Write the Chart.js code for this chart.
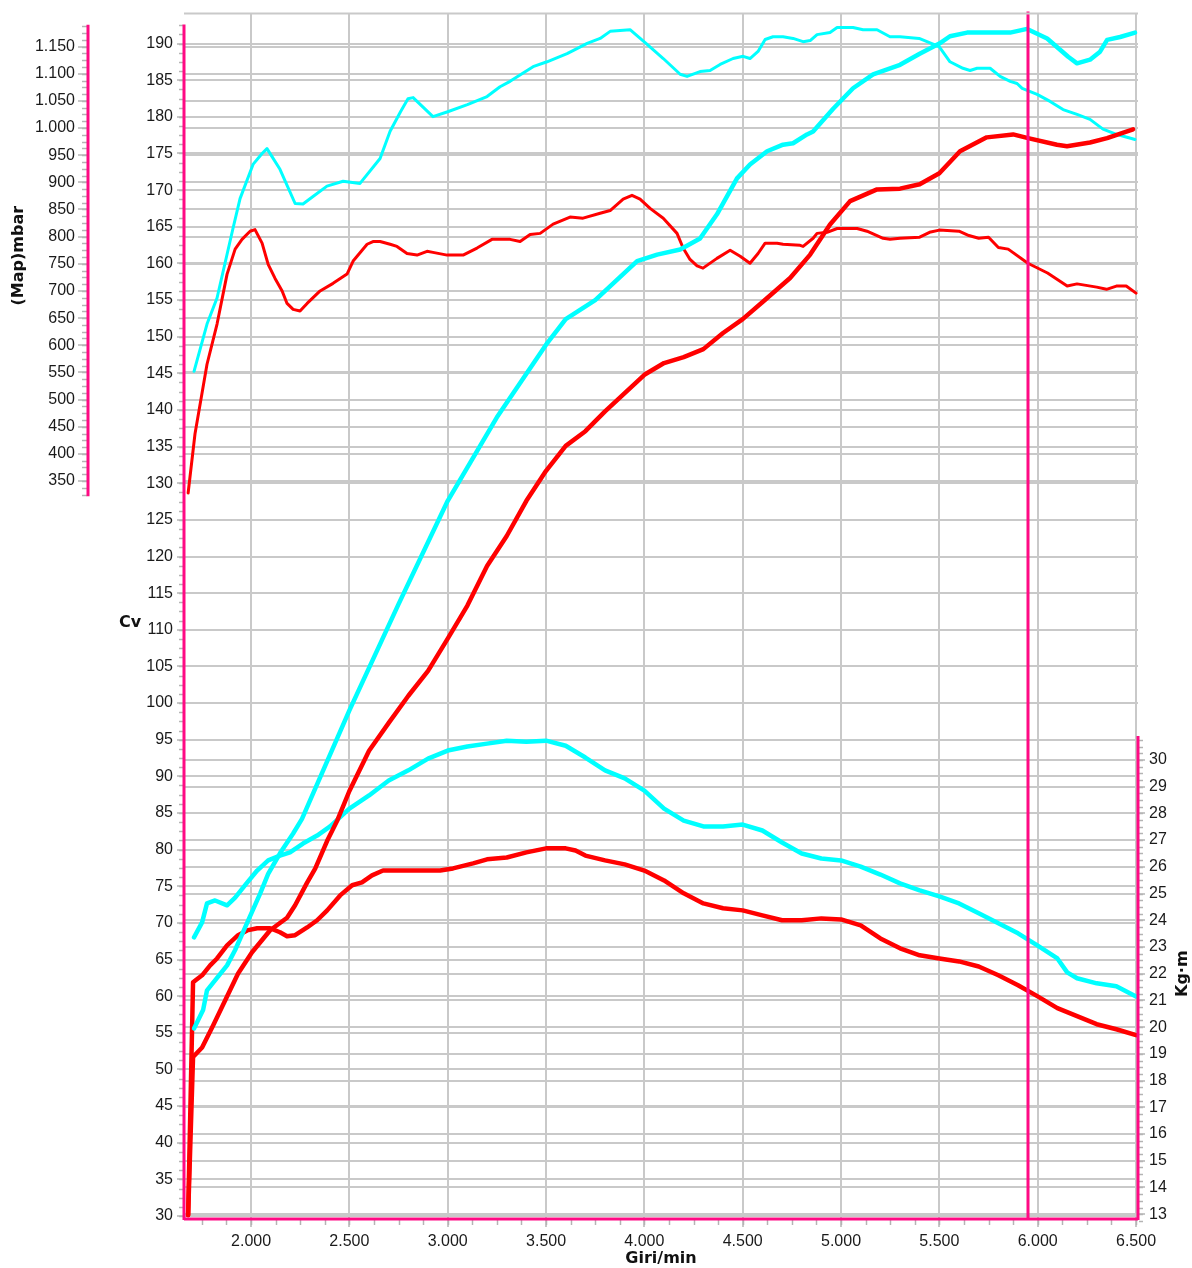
<!DOCTYPE html>
<html>
<head>
<meta charset="utf-8">
<script src="https://cdn.jsdelivr.net/npm/chart.js@4.4.1/dist/chart.umd.min.js"></script>
<style>
  html, body { margin: 0; padding: 0; background: #fff; }
  #wrap { width: 1192px; height: 1268px; }
</style>
</head>
<body>
<div id="wrap"><canvas id="dynoChart" width="1192" height="1268"></canvas></div>
<script>
// tick values
const rpmTicks = [2000, 2500, 3000, 3500, 4000, 4500, 5000, 5500, 6000, 6500];
const cvTicks = [30, 35, 40, 45, 50, 55, 60, 65, 70, 75, 80, 85, 90, 95, 100, 105, 110, 115, 120, 125, 130, 135, 140, 145, 150, 155, 160, 165, 170, 175, 180, 185, 190];
const mbarTicks = [350, 400, 450, 500, 550, 600, 650, 700, 750, 800, 850, 900, 950, 1000, 1050, 1100, 1150];
const kgmTicks = [13, 14, 15, 16, 17, 18, 19, 20, 21, 22, 23, 24, 25, 26, 27, 28, 29, 30];
const cursorRpm = 5950;

// run A (cyan) - power Cv
const rpmPowerA = [1710, 1756, 1776, 1878, 1919, 1985, 2046, 2087, 2147, 2214, 2259, 2500, 2750, 3000, 3250, 3500, 3600, 3750, 3963, 4065, 4182, 4283, 4369, 4471, 4537, 4624, 4705, 4756, 4827, 4858, 4960, 5061, 5163, 5300, 5400, 5500, 5554, 5641, 5860, 5946, 6048, 6155, 6200, 6266, 6317, 6353, 6419, 6495];
const powerA = [55.6, 58.1, 60.8, 64.2, 66.3, 70.3, 74.0, 76.7, 79.5, 82.2, 84.2, 99.0, 113.5, 127.6, 139.0, 148.9, 152.4, 155.0, 160.3, 161.2, 161.9, 163.4, 166.7, 171.6, 173.5, 175.3, 176.2, 176.4, 177.6, 178.0, 181.1, 183.9, 185.8, 187.1, 188.6, 190.0, 191.0, 191.5, 191.5, 192.0, 190.7, 188.2, 187.3, 187.8, 188.9, 190.5, 190.9, 191.5];

// run B (red) - power Cv
const rpmPowerB = [1680, 1705, 1751, 1807, 1868, 1934, 2005, 2097, 2183, 2224, 2285, 2326, 2387, 2437, 2500, 2600, 2700, 2800, 2900, 3000, 3100, 3200, 3300, 3400, 3500, 3600, 3700, 3800, 3900, 4000, 4100, 4200, 4300, 4400, 4500, 4604, 4741, 4843, 4944, 5046, 5183, 5300, 5400, 5500, 5605, 5741, 5875, 5951, 6098, 6149, 6266, 6353, 6485];
const powerB = [30.1, 51.7, 53.0, 56.0, 59.4, 63.1, 66.0, 69.0, 70.7, 72.4, 75.5, 77.4, 81.2, 83.9, 88.0, 93.5, 97.3, 101.0, 104.4, 108.8, 113.3, 118.7, 122.8, 127.6, 131.7, 135.1, 137.1, 139.8, 142.3, 144.8, 146.4, 147.2, 148.3, 150.5, 152.4, 154.8, 158.0, 161.2, 165.3, 168.5, 170.1, 170.2, 170.8, 172.3, 175.3, 177.2, 177.6, 177.1, 176.2, 176.0, 176.5, 177.1, 178.3];

// run A (cyan) - manifold pressure mbar
const rpmMapA = [1710, 1776, 1827, 1908, 1944, 2010, 2056, 2081, 2147, 2224, 2264, 2315, 2386, 2468, 2554, 2656, 2707, 2760, 2798, 2824, 2925, 3000, 3100, 3200, 3266, 3317, 3434, 3505, 3607, 3709, 3775, 3826, 3927, 4014, 4096, 4182, 4217, 4283, 4334, 4385, 4451, 4502, 4537, 4578, 4614, 4654, 4705, 4756, 4807, 4843, 4878, 4944, 4980, 5061, 5112, 5183, 5249, 5300, 5397, 5499, 5554, 5620, 5656, 5692, 5758, 5809, 5860, 5895, 5921, 5997, 6063, 6129, 6200, 6266, 6332, 6404, 6495];
const mapA = [552, 639, 687, 815, 870, 933, 953, 962, 924, 861, 860, 874, 893, 902, 898, 944, 994, 1030, 1054, 1056, 1021, 1030, 1043, 1058, 1076, 1086, 1113, 1122, 1137, 1156, 1165, 1178, 1181, 1154, 1128, 1099, 1095, 1104, 1106, 1117, 1128, 1132, 1128, 1141, 1163, 1168, 1168, 1165, 1159, 1161, 1172, 1176, 1185, 1185, 1181, 1181, 1168, 1168, 1165, 1150, 1122, 1110, 1106, 1110, 1110, 1095, 1086, 1082, 1073, 1062, 1049, 1034, 1025, 1016, 998, 988, 979];

// run B (red) - manifold pressure mbar
const rpmMapB = [1680, 1715, 1776, 1827, 1878, 1919, 1954, 1995, 2020, 2056, 2087, 2122, 2158, 2183, 2214, 2249, 2285, 2351, 2417, 2488, 2519, 2590, 2620, 2656, 2707, 2742, 2793, 2844, 2895, 2925, 2997, 3078, 3149, 3225, 3317, 3368, 3419, 3470, 3536, 3622, 3688, 3775, 3826, 3892, 3937, 3978, 4029, 4096, 4166, 4197, 4232, 4268, 4298, 4369, 4436, 4487, 4537, 4578, 4614, 4675, 4705, 4792, 4807, 4858, 4878, 4929, 4980, 5082, 5132, 5214, 5249, 5300, 5400, 5450, 5500, 5600, 5650, 5700, 5750, 5800, 5850, 5950, 6050, 6150, 6200, 6300, 6350, 6400, 6450, 6500];
const mapB = [328, 437, 565, 639, 731, 777, 795, 810, 813, 788, 749, 723, 700, 677, 666, 663, 677, 700, 714, 731, 755, 786, 791, 791, 786, 782, 769, 766, 773, 771, 766, 766, 779, 795, 795, 791, 804, 806, 823, 836, 834, 843, 848, 869, 876, 869, 852, 834, 806, 779, 758, 746, 742, 760, 775, 764, 751, 769, 788, 788, 786, 784, 782, 797, 806, 808, 815, 815, 810, 797, 795, 797, 799, 808, 812, 810, 802, 797, 799, 780, 777, 751, 733, 709, 713, 707, 703, 709, 709, 696];

// run A (cyan) - torque Kg·m
const rpmTorqueA = [1710, 1751, 1776, 1817, 1878, 1919, 1980, 2031, 2087, 2147, 2198, 2264, 2336, 2402, 2500, 2600, 2700, 2800, 2900, 3000, 3100, 3200, 3300, 3400, 3500, 3600, 3700, 3800, 3900, 4000, 4100, 4200, 4300, 4400, 4500, 4600, 4700, 4800, 4900, 5000, 5100, 5200, 5300, 5400, 5500, 5600, 5700, 5800, 5900, 6000, 6100, 6150, 6200, 6300, 6400, 6500];
const torqueA = [23.36, 23.92, 24.63, 24.74, 24.56, 24.85, 25.41, 25.86, 26.24, 26.42, 26.54, 26.87, 27.17, 27.51, 28.18, 28.67, 29.23, 29.61, 30.05, 30.35, 30.50, 30.61, 30.72, 30.68, 30.72, 30.53, 30.09, 29.61, 29.31, 28.85, 28.18, 27.73, 27.51, 27.51, 27.58, 27.36, 26.91, 26.50, 26.31, 26.24, 26.01, 25.71, 25.38, 25.12, 24.89, 24.63, 24.26, 23.89, 23.51, 23.05, 22.57, 22.05, 21.83, 21.64, 21.53, 21.15];

// run B (red) - torque Kg·m
const rpmTorqueB = [1680, 1705, 1751, 1792, 1827, 1878, 1934, 1980, 2031, 2097, 2147, 2183, 2224, 2285, 2336, 2387, 2453, 2514, 2564, 2615, 2671, 2961, 3027, 3129, 3200, 3300, 3400, 3500, 3600, 3650, 3700, 3800, 3900, 4000, 4100, 4200, 4300, 4400, 4500, 4600, 4700, 4800, 4900, 5000, 5100, 5200, 5300, 5400, 5500, 5600, 5700, 5800, 5900, 6000, 6100, 6200, 6300, 6400, 6500];
const torqueB = [12.97, 21.68, 21.94, 22.31, 22.57, 23.06, 23.44, 23.62, 23.70, 23.70, 23.55, 23.40, 23.44, 23.73, 24.00, 24.37, 24.93, 25.31, 25.42, 25.68, 25.86, 25.86, 25.94, 26.13, 26.28, 26.35, 26.54, 26.69, 26.69, 26.61, 26.42, 26.24, 26.09, 25.86, 25.49, 25.01, 24.63, 24.45, 24.37, 24.18, 24.00, 24.00, 24.07, 24.03, 23.81, 23.32, 22.95, 22.69, 22.57, 22.46, 22.27, 21.94, 21.57, 21.15, 20.71, 20.41, 20.11, 19.92, 19.70];

const PINK = '#ff0a84';
const GRID = '#c9c9c9';
const TICK = '#b4b4b4';
const CYAN = '#00ffff';
const RED = '#ff0000';
const FONT = '"Liberation Sans", Arial, Helvetica, sans-serif';
const TITLE_FONT = 'bold 16px "DejaVu Sans", Verdana, sans-serif';

function fmt(v) {
    return String(v).replace(/\B(?=(\d{3})+(?!\d))/g, '.');
}

function toPoints(xs, ys) {
    return xs.map((x, i) => ({ x: x, y: ys[i] }));
}

function setTicks(values) {
    return (scale) => { scale.ticks = values.map(v => ({ value: v })); };
}

function minorY(ctx, scale, from, to, step, x0, dir, len) {
    for (let v = from; v <= to + 1e-6; v += step) {
        const y = Math.round(scale.getPixelForValue(v)) + 0.5;
        ctx.beginPath();
        ctx.moveTo(x0, y);
        ctx.lineTo(x0 + dir * len, y);
        ctx.stroke();
    }
}

const decor = {
    id: 'decor',
    afterDatasetsDraw(chart) {
        const { ctx, chartArea: a, scales } = chart;
        const cx = Math.round(scales.x.getPixelForValue(cursorRpm));
        ctx.save();
        ctx.strokeStyle = PINK;
        ctx.lineWidth = 3;
        ctx.beginPath();
        ctx.moveTo(cx, a.top - 2);
        ctx.lineTo(cx, a.bottom);
        ctx.stroke();
        ctx.restore();
    },
    afterDraw(chart) {
        const { ctx, chartArea: a, scales } = chart;
        const cv = scales.cv, mbar = scales.mbar, kgm = scales.kgm, x = scales.x;
        ctx.save();

        // top border
        ctx.strokeStyle = GRID;
        ctx.lineWidth = 2;
        ctx.beginPath();
        ctx.moveTo(a.left, a.top);
        ctx.lineTo(a.right, a.top);
        ctx.stroke();

        // minor ticks
        ctx.strokeStyle = TICK;
        ctx.lineWidth = 1.5;
        minorY(ctx, cv, 30, 192.5, 1.25, a.left - 1, -1, 4);
        minorY(ctx, mbar, 325, 1187.5, 12.5, mbar.right - 1, -1, 5);
        minorY(ctx, kgm, 12.75, 30.75, 0.25, a.right + 1, 1, 4);
        for (let v = 1750; v <= 6500; v += 125) {
            const px = Math.round(x.getPixelForValue(v)) + 0.5;
            ctx.beginPath();
            ctx.moveTo(px, a.bottom + 1);
            ctx.lineTo(px, a.bottom + 6);
            ctx.stroke();
        }

        // axis lines
        ctx.strokeStyle = PINK;
        ctx.lineWidth = 3;
        ctx.beginPath();
        ctx.moveTo(a.left, cv.getPixelForValue(192.6));
        ctx.lineTo(a.left, a.bottom + 1);
        ctx.moveTo(mbar.right, mbar.getPixelForValue(1190));
        ctx.lineTo(mbar.right, mbar.getPixelForValue(322));
        ctx.moveTo(a.right, kgm.getPixelForValue(30.9));
        ctx.lineTo(a.right, a.bottom + 1);
        ctx.moveTo(a.left, a.bottom);
        ctx.lineTo(a.right, a.bottom);
        ctx.stroke();

        // titles
        ctx.fillStyle = '#111';
        ctx.font = TITLE_FONT;
        ctx.textAlign = 'center';
        ctx.textBaseline = 'middle';
        ctx.fillText('Cv', cv.left + 42, cv.getPixelForValue(111));
        ctx.fillText('Giri/min', (a.left + a.right) / 2, 1259);

        ctx.save();
        ctx.translate(19, mbar.getPixelForValue(765));
        ctx.rotate(-Math.PI / 2);
        ctx.fillText('(Map)mbar', 0, 0);
        ctx.restore();

        ctx.save();
        ctx.translate(1183, kgm.getPixelForValue(22));
        ctx.rotate(-Math.PI / 2);
        ctx.fillText('Kg·m', 0, 0);
        ctx.restore();

        ctx.restore();
    }
};

function yGrid(tickLength) {
    return { color: GRID, lineWidth: 2, tickLength: tickLength, tickColor: TICK, tickWidth: 1.5 };
}

Chart.defaults.font.family = FONT;
Chart.defaults.font.size = 16;
Chart.defaults.color = '#1a1a1a';

const ctx = document.getElementById('dynoChart').getContext('2d');

window.myChart = new Chart(ctx, {
    type: 'line',
    data: {
        datasets: [
            { label: 'Cv A', data: toPoints(rpmPowerA, powerA), yAxisID: 'cv', borderColor: CYAN, borderWidth: 4.5 },
            { label: 'Cv B', data: toPoints(rpmPowerB, powerB), yAxisID: 'cv', borderColor: RED, borderWidth: 4.5 },
            { label: 'Kgm A', data: toPoints(rpmTorqueA, torqueA), yAxisID: 'kgm', borderColor: CYAN, borderWidth: 4.5 },
            { label: 'Kgm B', data: toPoints(rpmTorqueB, torqueB), yAxisID: 'kgm', borderColor: RED, borderWidth: 4.5 },
            { label: 'mbar A', data: toPoints(rpmMapA, mapA), yAxisID: 'mbar', borderColor: CYAN, borderWidth: 3 },
            { label: 'mbar B', data: toPoints(rpmMapB, mapB), yAxisID: 'mbar', borderColor: RED, borderWidth: 3 }
        ]
    },
    options: {
        responsive: false,
        animation: false,
        devicePixelRatio: 1,
        layout: { padding: { top: 12, left: 0, right: 0, bottom: 0 } },
        elements: {
            point: { radius: 0 },
            line: { tension: 0, fill: false, borderJoinStyle: 'round', borderCapStyle: 'round' }
        },
        plugins: {
            legend: { display: false },
            tooltip: { enabled: false }
        },
        scales: {
            x: {
                type: 'linear',
                position: 'bottom',
                min: 1659,
                max: 6510,
                afterBuildTicks: setTicks(rpmTicks),
                afterFit: (s) => { s.height = 49; },
                ticks: { callback: (v) => fmt(v), padding: 5, maxRotation: 0, autoSkip: false },
                grid: yGrid(8),
                border: { display: false }
            },
            cv: {
                type: 'linear',
                position: 'left',
                weight: 0,
                min: 29.59,
                max: 194.09,
                afterBuildTicks: setTicks(cvTicks),
                afterFit: (s) => { s.width = 96; },
                ticks: { padding: 4, autoSkip: false },
                grid: yGrid(7),
                border: { display: false }
            },
            mbar: {
                type: 'linear',
                position: 'left',
                weight: 1,
                min: -1008.9,
                max: 1210.7,
                afterBuildTicks: setTicks(mbarTicks),
                afterFit: (s) => { s.width = 88; },
                ticks: { callback: (v) => fmt(v), padding: 3, autoSkip: false },
                grid: yGrid(10),
                border: { display: false }
            },
            kgm: {
                type: 'linear',
                position: 'right',
                min: 12.82,
                max: 57.93,
                afterBuildTicks: setTicks(kgmTicks),
                afterFit: (s) => { s.width = 54; },
                ticks: { padding: 4, autoSkip: false },
                grid: yGrid(7),
                border: { display: false }
            }
        }
    },
    plugins: [decor]
});
</script>
</body>
</html>
